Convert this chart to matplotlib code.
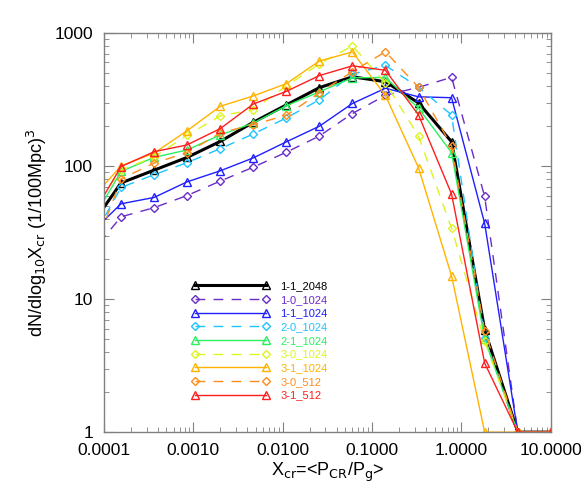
import matplotlib
matplotlib.use("Agg")
import matplotlib.pyplot as plt
from matplotlib.ticker import FuncFormatter, LogLocator, NullFormatter

plt.rcParams['font.family'] = ['Liberation Sans', 'DejaVu Sans']

# --- dados (centros dos bins em X_cr) ---
x_cr = [6.6e-5, 1.55e-4, 3.63e-4, 8.5e-4, 2.0e-3, 4.68e-3, 1.1e-2, 2.57e-2,
        6.03e-2, 0.141, 0.331, 0.776, 1.82, 4.27, 10.0]

n_1_1_2048 = [32.9, 74.6, 93, 116, 153, 213, 288, 388, 468, 430, 298, 152, 5.85, 1, 1]
n_1_0_1024 = [20.7, 41.5, 48.6, 60, 77, 98, 127, 168, 248, 340, 390, 464, 59, 1, 1]
n_1_1_1024 = [29.7, 52, 58, 76, 92, 115, 152, 199, 295, 384, 331, 326, 37, 1, 1]
n_2_0_1024 = [24.6, 69, 86, 106, 135, 174, 230, 314, 490, 570, 390, 242, 5.1, 1, 1]
n_2_1_1024 = [34.1, 91, 116, 132, 171, 210, 284, 361, 460, 463, 272, 126, 5.0, 1, 1]
n_3_0_1024 = [42.2, 93, 117, 170, 238, 265, 400, 585, 800, 420, 168, 34, 4.8, 1, 1]
n_3_1_1024 = [52.7, 100, 125, 184, 281, 336, 416, 615, 720, 339, 97, 14.9, 1, 1, 1]
n_3_0_512 = [16.9, 80, 105, 126, 177, 205, 240, 355, 512, 722, 390, 141, 5.8, 1, 1]
n_3_1_512 = [37.3, 99, 128, 144, 191, 292, 364, 478, 566, 524, 242, 61.5, 3.3, 1, 1]

series = [
    ("1-1_2048", n_1_1_2048, "black", "-", "^", 2.2),
    ("1-0_1024", n_1_0_1024, "#6a2cc8", "--", "D", 1.0),
    ("1-1_1024", n_1_1_1024, "#1f1fff", "-", "^", 1.0),
    ("2-0_1024", n_2_0_1024, "#1ec4ff", "--", "D", 1.0),
    ("2-1_1024", n_2_1_1024, "#2af060", "-", "^", 1.0),
    ("3-0_1024", n_3_0_1024, "#dcf51e", "--", "D", 1.0),
    ("3-1_1024", n_3_1_1024, "#ffb300", "-", "^", 1.0),
    ("3-0_512", n_3_0_512, "#ff8c1a", "--", "D", 1.0),
    ("3-1_512", n_3_1_512, "#ff1e1e", "-", "^", 1.0),
]

fig = plt.figure(figsize=(5.81, 4.99), dpi=100)
ax = fig.add_axes([0.179, 0.134, 0.769, 0.800])

for nome, y, cor, estilo, marca, lw in series:
    ms = 6.0 if marca == "^" else 4.2
    linha, = ax.plot(x_cr, y, color=cor, linestyle=estilo, linewidth=lw,
                     marker=marca, markersize=ms, markerfacecolor='none',
                     markeredgecolor=cor, markeredgewidth=1.0, label=nome)
    if estilo == "--":
        linha.set_dashes((7, 6))

ax.set_xscale('log')
ax.set_yscale('log')
ax.set_xlim(1e-4, 10)
ax.set_ylim(1, 1000)

ax.xaxis.set_major_formatter(FuncFormatter(lambda v, p: f"{v:.4f}"))
ax.yaxis.set_major_formatter(FuncFormatter(lambda v, p: f"{v:.0f}"))
ax.xaxis.set_minor_locator(LogLocator(base=10, subs=range(2, 10), numticks=20))
ax.yaxis.set_minor_locator(LogLocator(base=10, subs=range(2, 10), numticks=20))
ax.xaxis.set_minor_formatter(NullFormatter())
ax.yaxis.set_minor_formatter(NullFormatter())

cinza = '#808080'
for s in ax.spines.values():
    s.set_color(cinza)
    s.set_linewidth(1.0)
ax.tick_params(which='both', direction='in', top=True, right=True,
               color=cinza, labelsize=12.5, labelcolor='black')
ax.tick_params(which='major', length=7, pad=8)
ax.tick_params(which='minor', length=3.5)

ax.set_xlabel(r"X$_{\rm cr}$=<P$_{\rm CR}$/P$_{\rm g}$>", fontsize=13, labelpad=2)
ax.set_ylabel(r"dN/dlog$_{10}$X$_{\rm cr}$ (1/100Mpc)$^{3}$", fontsize=13, labelpad=4)

leg = ax.legend(loc='upper left', bbox_to_anchor=(0.183, 0.392), frameon=False,
                fontsize=8, numpoints=2, handlelength=7.0, handletextpad=1.0,
                labelspacing=0.33, borderpad=0, labelcolor='linecolor')

plt.savefig("out.png", dpi=100)
